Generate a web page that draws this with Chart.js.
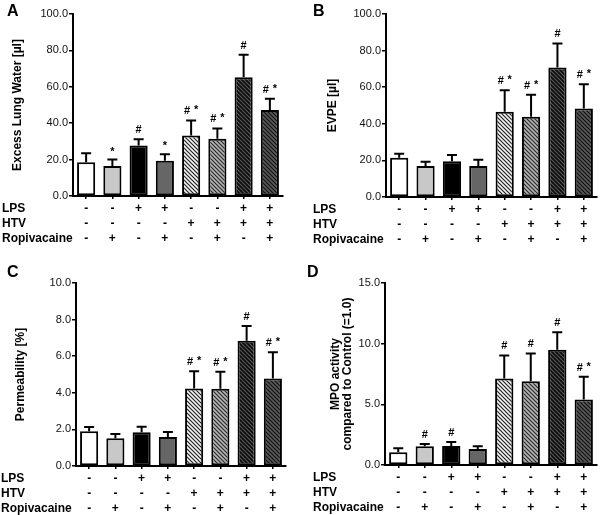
<!DOCTYPE html>
<html>
<head>
<meta charset="utf-8">
<script src="https://cdn.jsdelivr.net/npm/chart.js@4.4.1/dist/chart.umd.min.js"></script>
<style>
    body { margin: 0; background: #fff; }
    #wrap { position: relative; width: 600px; height: 515px; font-family: "Liberation Sans", Arial, sans-serif; }
    #wrap canvas { position: absolute; }
    .tag { position: absolute; font-weight: bold; font-size: 16px; line-height: 16px; color: #000; }
</style>
</head>
<body>
<div id="wrap">
    <canvas id="chartA" width="300" height="258" style="left:0;top:0"></canvas>
    <canvas id="chartB" width="300" height="258" style="left:300px;top:0"></canvas>
    <canvas id="chartC" width="300" height="257" style="left:0;top:258px"></canvas>
    <canvas id="chartD" width="300" height="257" style="left:300px;top:258px"></canvas>
    <div class="tag" style="left:7px;top:3px">A</div>
    <div class="tag" style="left:313px;top:3px">B</div>
    <div class="tag" style="left:7px;top:264px">C</div>
    <div class="tag" style="left:307px;top:264px">D</div>
</div>
<script>
(function() {
    'use strict';

    // Treatment table under each panel
    const rowNames = ['LPS', 'HTV', 'Ropivacaine'];
    const lpsRow = ['-', '-', '+', '+', '-', '-', '+', '+'];
    const htvRow = ['-', '-', '-', '-', '+', '+', '+', '+'];
    const ropiRow = ['-', '+', '-', '+', '-', '+', '-', '+'];

    // A - excess lung water
    const elwMean = [18.5, 16.5, 27.7, 19.3, 33.2, 31.4, 65.3, 47.3];
    const elwErr = [5.0, 3.5, 3.5, 3.6, 8.3, 5.7, 12.3, 6.1];
    const elwMarks = ['', '*', '#', '*', '#*', '#*', '#', '#*'];

    // B - EVPE
    const evpeMean = [21.4, 17.0, 19.6, 17.0, 46.6, 43.9, 70.7, 48.3];
    const evpeErr = [2.2, 2.2, 3.4, 3.3, 11.7, 12.0, 13.2, 13.3];
    const evpeMarks = ['', '', '', '', '#*', '#*', '#', '#*'];

    // C - permeability
    const permMean = [1.90, 1.51, 1.84, 1.59, 4.23, 4.22, 6.84, 4.78];
    const permErr = [0.23, 0.24, 0.31, 0.27, 0.95, 0.93, 0.81, 1.44];
    const permMarks = ['', '', '', '', '#*', '#*', '#', '#*'];

    // D - MPO activity
    const mpoMean = [1.05, 1.54, 1.57, 1.32, 7.13, 6.91, 9.50, 5.39];
    const mpoErr = [0.33, 0.19, 0.33, 0.22, 1.90, 2.28, 1.45, 1.88];
    const mpoMarks = ['', '#', '#', '', '#', '#', '#', '#*'];

    const FONT = '"Liberation Sans", Arial, sans-serif';

    /**
     * Diagonal hatch pattern (lines running top-left to bottom-right)
     */
    function makeHatch(bg, fg) {
        const s = 4;
        const c = document.createElement('canvas');
        c.width = s;
        c.height = s;
        const g = c.getContext('2d');
        g.fillStyle = bg;
        g.fillRect(0, 0, s, s);
        g.strokeStyle = fg;
        g.lineWidth = 1.2;
        g.beginPath();
        g.moveTo(-1, -1); g.lineTo(s + 1, s + 1);
        g.moveTo(s - 1, -1); g.lineTo(s + 1, 1);
        g.moveTo(-1, s - 1); g.lineTo(1, s + 1);
        g.stroke();
        return g.createPattern(c, 'repeat');
    }

    const fills = [
        '#ffffff', '#c8c8c8', '#000000', '#666666',
        makeHatch('#f4f4f4', '#222222'),
        makeHatch('#b4b4b4', '#2a2a2a'),
        makeHatch('#0a0a0a', '#5a5a5a'),
        makeHatch('#5a5a5a', '#111111')
    ];

    const TICK_LEN = 3;
    const TICK_PAD = 2;
    const ROW_H = 15;

    // Error bars (upper only) and significance marks
    const errorBarPlugin = {
        id: 'errorBars',
        afterDatasetsDraw(chart, args, opts) {
            const ctx = chart.ctx;
            const meta = chart.getDatasetMeta(0);
            const yScale = chart.scales.y;
            const means = chart.data.datasets[0].data;
            ctx.save();
            ctx.strokeStyle = '#000';
            ctx.lineWidth = 2;
            meta.data.forEach(function(bar, i) {
                const top = yScale.getPixelForValue(means[i] + opts.err[i]);
                ctx.beginPath();
                ctx.moveTo(bar.x, bar.y);
                ctx.lineTo(bar.x, top);
                ctx.moveTo(bar.x - 5, top);
                ctx.lineTo(bar.x + 5, top);
                ctx.stroke();

                const mark = opts.marks[i];
                ctx.fillStyle = '#000';
                ctx.textBaseline = 'alphabetic';
                ctx.textAlign = 'center';
                ctx.font = 'bold 11px ' + FONT;
                if (mark === '#') {
                    ctx.fillText('#', bar.x, top - 6);
                } else if (mark === '*') {
                    ctx.fillText('*', bar.x, top - 5);
                } else if (mark === '#*') {
                    ctx.fillText('#', bar.x - 4, top - 6);
                    ctx.fillText('*', bar.x + 5, top - 7);
                }
            });
            ctx.restore();
        }
    };

    // Row headers of the treatment table
    const rowHeaderPlugin = {
        id: 'rowHeaders',
        afterDraw(chart, args, opts) {
            const ctx = chart.ctx;
            const xScale = chart.scales.x;
            ctx.save();
            ctx.fillStyle = '#000';
            ctx.font = 'bold 12px ' + FONT;
            ctx.textAlign = 'left';
            ctx.textBaseline = 'middle';
            rowNames.forEach(function(name, i) {
                const y = xScale.top + TICK_LEN + TICK_PAD + ROW_H * (i + 0.5);
                ctx.fillText(name, opts.x, y);
            });
            ctx.restore();
        }
    };

    function makePanel(p) {
        const labels = lpsRow.map(function(v, i) {
            return [lpsRow[i], htvRow[i], ropiRow[i]];
        });
        const canvas = document.getElementById(p.id);
        const w = canvas.width;
        const h = canvas.height;

        return new Chart(canvas, {
            type: 'bar',
            data: {
                labels: labels,
                datasets: [{
                    data: p.mean,
                    backgroundColor: fills,
                    borderColor: '#000',
                    borderWidth: 2,
                    borderSkipped: false,
                    categoryPercentage: 1,
                    barPercentage: 0.69
                }]
            },
            options: {
                responsive: false,
                animation: false,
                layout: {
                    padding: { left: 0, top: p.axisTop, right: w - p.axisRight, bottom: 0 }
                },
                scales: {
                    x: {
                        grid: {
                            offset: false,
                            drawOnChartArea: false,
                            tickLength: TICK_LEN,
                            color: '#000',
                            lineWidth: 1.5
                        },
                        border: { color: '#000', width: 2 },
                        ticks: {
                            color: '#000',
                            padding: TICK_PAD,
                            maxRotation: 0,
                            autoSkip: false,
                            font: { family: FONT, size: 12, weight: 'bold', lineHeight: ROW_H / 12 }
                        },
                        afterFit: function(scale) {
                            scale.height = h - p.axisBottom;
                        }
                    },
                    y: {
                        min: 0,
                        max: p.ymax,
                        grid: {
                            drawOnChartArea: false,
                            tickLength: 4,
                            color: '#000',
                            lineWidth: 1.5
                        },
                        border: { color: '#000', width: 2 },
                        ticks: {
                            stepSize: p.ystep,
                            color: '#111',
                            padding: 1,
                            font: { family: FONT, size: 11 },
                            callback: function(v) {
                                return v.toFixed(1);
                            }
                        },
                        title: {
                            display: true,
                            text: p.title,
                            color: '#000',
                            padding: { top: p.titlePad, bottom: 0 },
                            font: { family: FONT, size: 12, weight: 'bold', lineHeight: 1.05 }
                        },
                        afterFit: function(scale) {
                            scale.width = p.axisLeft;
                        }
                    }
                },
                plugins: {
                    legend: { display: false },
                    tooltip: { enabled: false },
                    errorBars: { err: p.err, marks: p.marks },
                    rowHeaders: { x: p.rowX }
                }
            },
            plugins: [errorBarPlugin, rowHeaderPlugin]
        });
    }

    makePanel({
        id: 'chartA', mean: elwMean, err: elwErr, marks: elwMarks,
        ymax: 100, ystep: 20, title: 'Excess Lung Water [µl]', titlePad: 11,
        axisLeft: 73, axisTop: 14, axisBottom: 196, axisRight: 283, rowX: 2
    });
    makePanel({
        id: 'chartB', mean: evpeMean, err: evpeErr, marks: evpeMarks,
        ymax: 100, ystep: 20, title: 'EVPE [µl]', titlePad: 26,
        axisLeft: 86, axisTop: 14, axisBottom: 197, axisRight: 297, rowX: 13
    });
    makePanel({
        id: 'chartC', mean: permMean, err: permErr, marks: permMarks,
        ymax: 10, ystep: 2, title: 'Permeability [%]', titlePad: 14,
        axisLeft: 76, axisTop: 25, axisBottom: 208, axisRight: 286, rowX: 1
    });
    makePanel({
        id: 'chartD', mean: mpoMean, err: mpoErr, marks: mpoMarks,
        ymax: 15, ystep: 5, title: ['MPO activity', 'compared to Control (=1.0)'], titlePad: 29,
        axisLeft: 85, axisTop: 25, axisBottom: 207, axisRight: 297, rowX: 13
    });
})();
</script>
</body>
</html>
